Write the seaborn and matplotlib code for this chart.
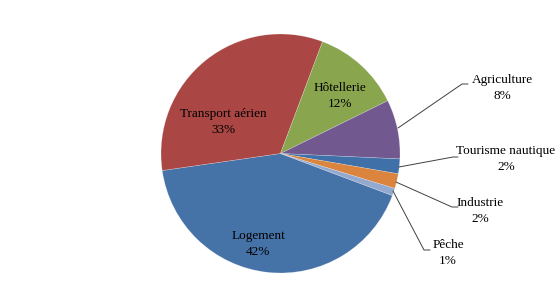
import matplotlib
matplotlib.use("Agg")
import matplotlib.pyplot as plt
import seaborn as sns

categories = ["Logement", "Transport aérien", "Hôtellerie", "Agriculture",
              "Tourisme nautique", "Industrie", "Pêche"]
values = [42, 33, 12, 8, 2, 2, 1]
pct_labels = ["42%", "33%", "12%", "8%", "2%", "2%", "1%"]
hex_colors = ["#4572A7", "#AA4643", "#89A54E", "#71588F",
              "#4070A8", "#DB843D", "#93A9CF"]

sns.set_theme(style="white")
plt.rcParams['font.family'] = ['Liberation Serif', 'DejaVu Serif']
palette = sns.color_palette(hex_colors)

fig = plt.figure(figsize=(5.6, 3.07), dpi=100)
ax = fig.add_axes([0, 0, 1, 1])

H = 307
cx, cy, r = 280.5, H - 153.5, 119.5
wedges, _ = ax.pie(values, colors=palette, startangle=-20.6, counterclock=False,
                   center=(cx, cy), radius=r, frame=True,
                   wedgeprops=dict(edgecolor=(1, 1, 1, 0.35), linewidth=0.4))
ax.set_xlim(0, 560)
ax.set_ylim(0, 307)
ax.set_aspect('equal')
ax.axis('off')

fs = 9.5
ls = 1.35
# inside labels
inside = {0: (258, 244), 1: (223, 122), 2: (340, 96)}
for i, (x, y) in inside.items():
    ax.text(x, H - y, f"{categories[i]}\n{pct_labels[i]}", ha='center', va='center',
            fontsize=fs, color='black', linespacing=ls)

# outside labels with leader lines: (text center), line points
outside = {
    3: ((502, 88), [(398, 128), (462, 84), (468, 84)]),
    4: ((506, 159), [(399, 167), (453, 157), (458, 157)]),
    5: ((480, 211), [(396, 182), (452, 207), (458, 207)]),
    6: ((448, 253), [(393, 191), (424, 250), (430, 250)]),
}
for i, ((tx, ty), pts) in outside.items():
    xs = [p[0] for p in pts]
    ys = [H - p[1] for p in pts]
    ax.plot(xs, ys, color='#404040', lw=0.7)
    ax.text(tx, H - ty, f"{categories[i]}\n{pct_labels[i]}", ha='center', va='center',
            fontsize=fs, color='black', linespacing=ls)

fig.savefig("out.png", dpi=100, facecolor='white')
